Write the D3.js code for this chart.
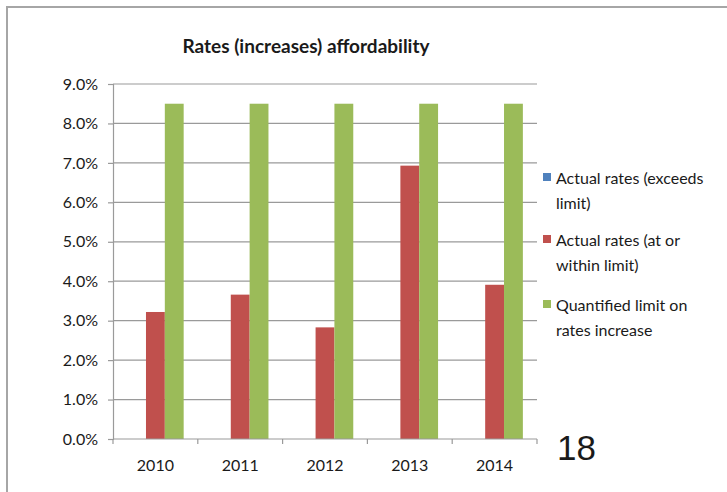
<!DOCTYPE html>
<html>
<head>
<meta charset="utf-8">
<script src="https://cdn.jsdelivr.net/npm/d3@7"></script>
<style>
  html, body { margin: 0; padding: 0; background: #fff; }
  svg { display: block; }
  text { font-family: Lato, "Open Sans", sans-serif; fill: #1a1a1a; }
</style>
</head>
<body>
<svg id="chart" width="727" height="492"></svg>
<script>
// Years on the category axis
const years = ["2010", "2011", "2012", "2013", "2014"];
// Series values (percent)
const exceedsLimit = [0, 0, 0, 0, 0];
const withinLimit = [3.22, 3.66, 2.83, 6.93, 3.91];
const quantifiedLimit = [8.5, 8.5, 8.5, 8.5, 8.5];
// Axis ticks (percent)
const yTicks = [0, 1, 2, 3, 4, 5, 6, 7, 8, 9];

const seriesNames = ["Actual rates (exceeds limit)", "Actual rates (at or within limit)", "Quantified limit on rates increase"];
const seriesLegendLines = [["Actual rates (exceeds", "limit)"], ["Actual rates (at or", "within limit)"], ["Quantified limit on", "rates increase"]];
const seriesValues = [exceedsLimit, withinLimit, quantifiedLimit];
const seriesColors = ["#4F81BD", "#C0504D", "#9BBB59"];

const svg = d3.select("#chart");

// Outer frame (top and left edges)
svg.append("path")
  .attr("d", "M7,492 V7 H727")
  .attr("fill", "none")
  .attr("stroke", "#a6a6a6")
  .attr("stroke-width", 2);

const plot = { left: 113, right: 537, top: 84, bottom: 439 };

const x = d3.scaleBand().domain(years).range([plot.left, plot.right]);
// Clustered bars: 3 series with a gap of 1.5 bar widths per category
const inner = d3.scaleBand().domain(d3.range(seriesValues.length))
  .range([0, x.bandwidth()]).paddingOuter(0.75).paddingInner(0);
const y = d3.scaleLinear().domain([0, 9]).range([plot.bottom, plot.top]);

// Horizontal gridlines
svg.append("g").selectAll("line").data(yTicks.slice(1)).join("line")
  .attr("x1", plot.left).attr("x2", plot.right)
  .attr("y1", d => y(d)).attr("y2", d => y(d))
  .attr("stroke", "#9a9a9a").attr("stroke-width", 1.2);

// Bars
const rows = [];
seriesValues.forEach((vals, s) => vals.forEach((v, i) => rows.push({ s, year: years[i], v })));
svg.append("g").selectAll("rect").data(rows.filter(r => r.v > 0)).join("rect")
  .attr("x", d => x(d.year) + inner(d.s))
  .attr("width", inner.bandwidth())
  .attr("y", d => y(d.v))
  .attr("height", d => y(0) - y(d.v))
  .attr("fill", d => seriesColors[d.s]);

// Y axis
const yAxis = d3.axisLeft(y).tickValues(yTicks).tickSize(5).tickPadding(10)
  .tickFormat(d => d3.format(".1f")(d) + "%");
const gy = svg.append("g").attr("transform", `translate(${plot.left},0)`).call(yAxis);
gy.select(".domain").attr("stroke", "#9a9a9a").attr("stroke-width", 1.2);
gy.selectAll(".tick line").attr("stroke", "#9a9a9a").attr("stroke-width", 1.2);
gy.selectAll(".tick text").style("font-size", "16px").attr("fill", "#1a1a1a");

// X axis with tick marks on category boundaries
const gx = svg.append("g").attr("transform", `translate(0,${plot.bottom})`);
gx.append("line").attr("x1", plot.left).attr("x2", plot.right)
  .attr("stroke", "#9a9a9a").attr("stroke-width", 1.2);
const bounds = years.map(d => x(d)).concat([plot.right]);
gx.selectAll("line.b").data(bounds).join("line").attr("class", "b")
  .attr("x1", d => d).attr("x2", d => d).attr("y1", 0).attr("y2", 5)
  .attr("stroke", "#9a9a9a").attr("stroke-width", 1.2);
gx.selectAll("text").data(years).join("text")
  .attr("x", d => x(d) + x.bandwidth() / 2)
  .attr("y", 32)
  .attr("text-anchor", "middle")
  .style("font-size", "16px")
  .text(d => d);

// Title
svg.append("text")
  .attr("x", 306).attr("y", 53)
  .attr("text-anchor", "middle")
  .style("font-size", "19px").style("font-weight", "bold")
  .text("Rates (increases) affordability");

// Legend
const legendTop = [184, 246, 311];
const legend = svg.append("g");
seriesNames.forEach((name, i) => {
  const g = legend.append("g").attr("transform", `translate(543,${legendTop[i]})`);
  g.append("rect").attr("x", 0).attr("y", -11).attr("width", 8).attr("height", 8)
    .attr("fill", seriesColors[i]);
  g.append("text").attr("x", 13).attr("y", 0).style("font-size", "16px")
    .selectAll("tspan").data(seriesLegendLines[i]).join("tspan")
    .attr("x", 13).attr("dy", (d, j) => j === 0 ? 0 : 25)
    .text(d => d);
});

// Page number
svg.append("text")
  .attr("x", 557).attr("y", 460)
  .style("font-family", "'Liberation Sans', Arial, sans-serif")
  .style("font-size", "35px")
  .text("18");
</script>
</body>
</html>
